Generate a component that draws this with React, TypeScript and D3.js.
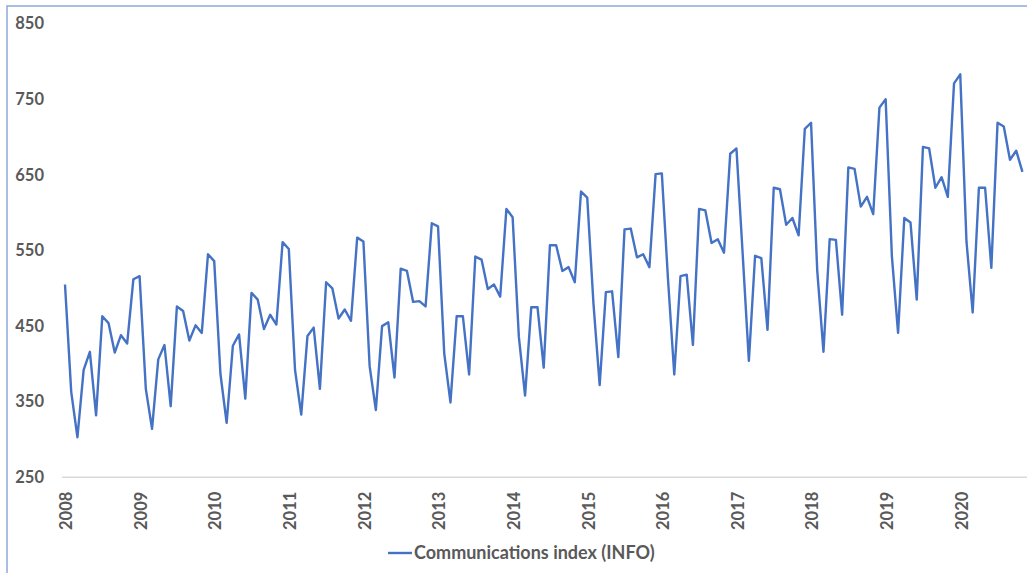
import { useRef, useEffect } from "react";
import * as d3 from "d3";

// monthly values, one array per year (Jan 2008 .. Nov 2020)
const v2008 = [505, 363, 303, 392, 416, 332, 463, 454, 415, 438, 427, 512];
const v2009 = [516, 367, 314, 406, 425, 344, 476, 470, 431, 451, 441, 545];
const v2010 = [536, 387, 322, 424, 439, 354, 494, 485, 446, 465, 452, 561];
const v2011 = [552, 392, 333, 437, 448, 367, 508, 500, 460, 472, 457, 567];
const v2012 = [562, 397, 339, 450, 455, 382, 526, 523, 482, 483, 476, 586];
const v2013 = [582, 414, 349, 463, 463, 386, 542, 538, 499, 505, 489, 605];
const v2014 = [594, 436, 358, 475, 475, 395, 557, 557, 523, 528, 508, 628];
const v2015 = [620, 480, 372, 495, 496, 409, 578, 579, 541, 545, 528, 651];
const v2016 = [652, 511, 386, 516, 518, 425, 605, 603, 560, 565, 547, 678];
const v2017 = [685, 546, 404, 543, 540, 445, 633, 631, 584, 593, 570, 711];
const v2018 = [719, 523, 416, 565, 564, 465, 660, 658, 608, 621, 598, 739];
const v2019 = [750, 543, 441, 593, 587, 485, 687, 685, 633, 647, 621, 771];
const v2020 = [783, 562, 468, 633, 633, 527, 719, 714, 670, 682, 654];

const infoIndex = [
  ...v2008, ...v2009, ...v2010, ...v2011, ...v2012, ...v2013, ...v2014,
  ...v2015, ...v2016, ...v2017, ...v2018, ...v2019, ...v2020,
];

const yearLabels = ["2008", "2009", "2010", "2011", "2012", "2013", "2014",
  "2015", "2016", "2017", "2018", "2019", "2020"];
const yTicks = [250, 350, 450, 550, 650, 750, 850];
const seriesName = "Communications index (INFO)";

const W = 1027;
const H = 573;
const FONT = "Lato, 'Open Sans', sans-serif";
const GREY = "#595959";
const BLUE = "#4472C4";

export default function App() {
  const svgRef = useRef<SVGSVGElement>(null);

  useEffect(() => {
    if (!svgRef.current) return;
    const svg = d3.select(svgRef.current);
    svg.selectAll("*").remove();

    svg.append("rect").attr("width", W).attr("height", H).attr("fill", "#fff");

    // chart frame (cut off at right and bottom)
    svg
      .append("rect")
      .attr("x", 7)
      .attr("y", 6)
      .attr("width", W + 20)
      .attr("height", H + 20)
      .attr("fill", "none")
      .attr("stroke", "#8EA9DB")
      .attr("stroke-width", 1.5);

    const x = d3
      .scaleLinear()
      .domain([0, infoIndex.length - 1])
      .range([65, 65 + (infoIndex.length - 1) * 6.217]);

    const y = d3.scaleLinear().domain([250, 850]).range([477.3, 23.7]);

    // x axis line
    svg
      .append("line")
      .attr("x1", 62)
      .attr("x2", W)
      .attr("y1", y(250))
      .attr("y2", y(250))
      .attr("stroke", "#D9D9D9")
      .attr("stroke-width", 1.5);

    // y tick labels
    svg
      .append("g")
      .selectAll("text")
      .data(yTicks)
      .join("text")
      .attr("x", 44)
      .attr("y", (d) => y(d))
      .attr("dy", "0.35em")
      .attr("text-anchor", "end")
      .attr("fill", GREY)
      .style("font-family", FONT)
      .style("font-weight", "bold")
      .style("font-size", "16.5px")
      .text((d) => d);

    // x tick labels, rotated
    svg
      .append("g")
      .selectAll("text")
      .data(yearLabels)
      .join("text")
      .attr("transform", (_, i) => `translate(${x(i * 12) + 1.5},530) rotate(-90)`)
      .attr("dy", "0.35em")
      .attr("text-anchor", "start")
      .attr("fill", GREY)
      .style("font-family", FONT)
      .style("font-weight", "bold")
      .style("font-size", "16.5px")
      .text((d) => d);

    const line = d3
      .line<number>()
      .x((_, i) => x(i))
      .y((d) => y(d));

    svg
      .append("path")
      .datum(infoIndex)
      .attr("d", line)
      .attr("fill", "none")
      .attr("stroke", BLUE)
      .attr("stroke-width", 2.4)
      .attr("stroke-linejoin", "round");

    // legend
    const lg = svg.append("g").attr("transform", "translate(388,553)");
    lg.append("line")
      .attr("x1", 0)
      .attr("x2", 24)
      .attr("stroke", BLUE)
      .attr("stroke-width", 2.4);
    lg.append("text")
      .attr("x", 26)
      .attr("dy", "0.35em")
      .attr("fill", GREY)
      .style("font-family", FONT)
      .style("font-weight", "bold")
      .style("font-size", "18px")
      .text(seriesName);
  }, []);

  return (
    <svg
      ref={svgRef}
      width={W}
      height={H}
      style={{ position: "absolute", left: 0, top: 0 }}
    />
  );
}
